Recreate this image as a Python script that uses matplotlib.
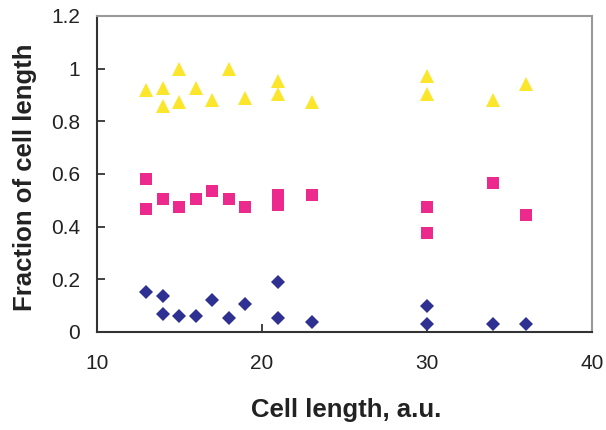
import matplotlib
matplotlib.use("Agg")
import matplotlib.pyplot as plt

# cell length (a.u.) for each measured cell, one list per marker series
tri_x = [13, 14, 14, 15, 15, 16, 17, 18, 19, 21, 21, 23, 30, 30, 34, 36]
tri_y = [0.92, 0.928, 0.858, 1.0, 0.875, 0.928, 0.881, 1.0, 0.89, 0.951, 0.903, 0.872,
         0.972, 0.904, 0.881, 0.942]

sq_x = [13, 13, 14, 15, 16, 17, 18, 19, 21, 21, 23, 30, 30, 34, 36]
sq_y = [0.58, 0.466, 0.505, 0.474, 0.505, 0.535, 0.505, 0.474, 0.519, 0.482, 0.52,
        0.474, 0.375, 0.565, 0.443]

dia_x = [13, 14, 14, 15, 16, 17, 18, 19, 21, 21, 23, 30, 30, 34, 36]
dia_y = [0.153, 0.137, 0.068, 0.061, 0.061, 0.122, 0.052, 0.106, 0.19, 0.054, 0.038,
         0.099, 0.032, 0.032, 0.032]

xticks = [10, 20, 30, 40]
yticks = [0, 0.2, 0.4, 0.6, 0.8, 1, 1.2]
ytick_labels = ["0", "0.2", "0.4", "0.6", "0.8", "1", "1.2"]

plt.rcParams['font.family'] = ['Liberation Sans', 'DejaVu Sans']

fig = plt.figure(figsize=(6.06, 4.30), dpi=100)
ax = fig.add_axes([0.160, 0.228, 0.817, 0.735])

ax.plot(tri_x, tri_y, linestyle='none', marker='^', ms=10.5, color='#FBE62B', mew=0)
ax.plot(sq_x, sq_y, linestyle='none', marker='s', ms=8.6, color='#EC2A8E', mew=0)
ax.plot(dia_x, dia_y, linestyle='none', marker='D', ms=7.1, color='#2E3192', mew=0)

ax.set_xlim(10, 40)
ax.set_ylim(0, 1.2)
ax.set_xticks(xticks)
ax.set_yticks(yticks)
ax.set_yticklabels(ytick_labels)
ax.tick_params(direction='in', length=6, width=1.2, labelsize=15, colors='#222222')
ax.tick_params(axis='y', pad=12)
ax.tick_params(axis='x', pad=16)

for side in ['left', 'bottom']:
    ax.spines[side].set_color('#333333')
    ax.spines[side].set_linewidth(1.5)
for side in ['top', 'right']:
    ax.spines[side].set_color('#999999')
    ax.spines[side].set_linewidth(1.5)

# axis titles placed in figure pixels as in the reference
fig.text(346.5 / 606, 1 - 417 / 430, 'Cell length, a.u.', fontsize=18.5, fontweight='bold',
         color='#222222', ha='center', va='baseline')
fig.text(25 / 606, 1 - 177 / 430, 'Fraction of cell length', fontsize=18.5, fontweight='bold',
         color='#222222', ha='center', va='center', rotation=90)

fig.savefig('out.png', dpi=100)
